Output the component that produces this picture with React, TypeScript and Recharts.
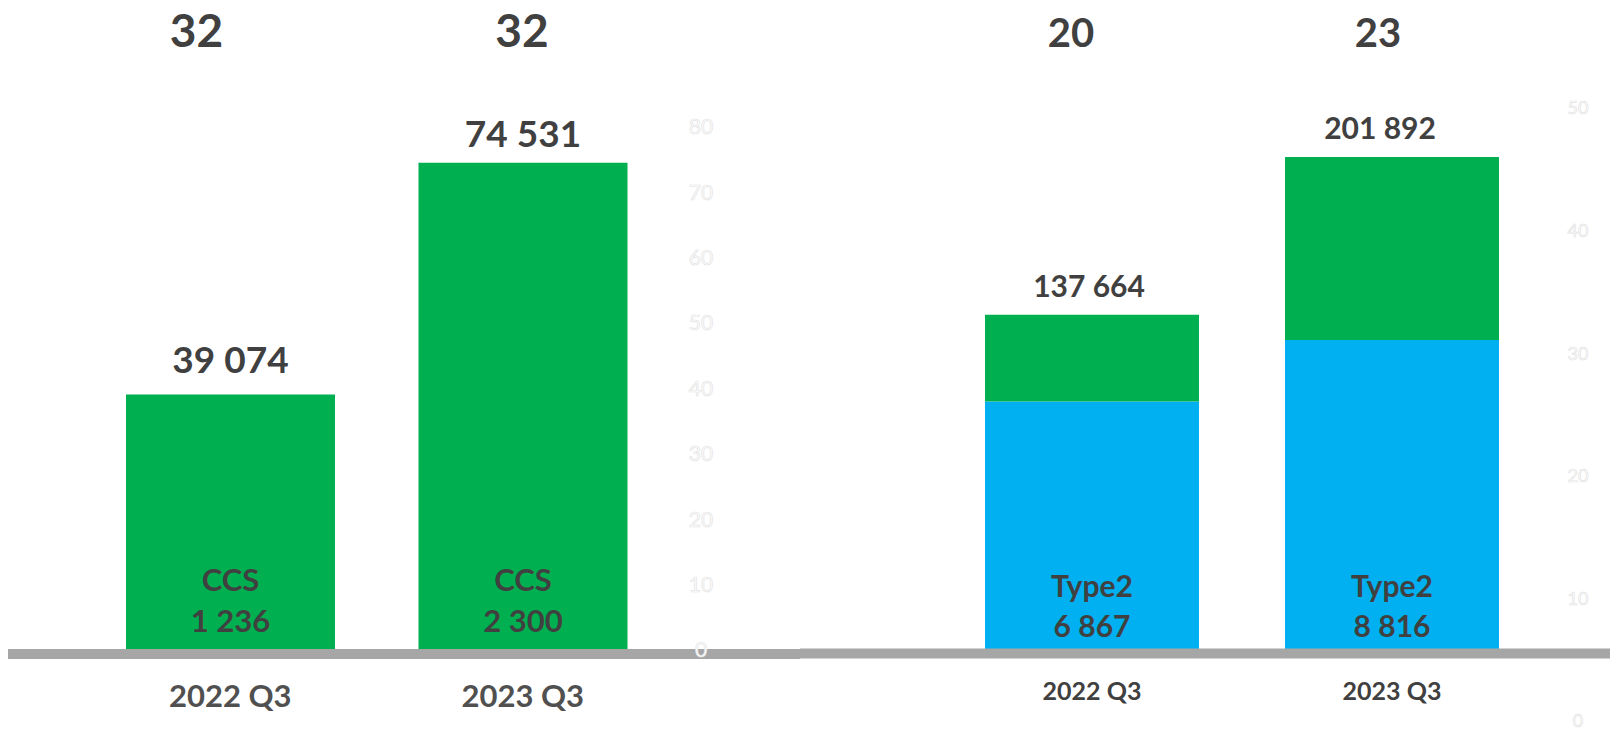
import { Bar, BarChart, LabelList, ReferenceLine, XAxis, YAxis } from "recharts";

// left panel: CCS sessions (thousands)
const LEFT_CATEGORIES = ["2022 Q3", "2023 Q3"];
const LEFT_VALUES = [39.074, 74.531];
const LEFT_VALUE_LABELS = ["39 074", "74 531"];
const LEFT_INNER_NAME = "CCS";
const LEFT_INNER_COUNTS = ["1 236", "2 300"];
const LEFT_TOP_NUMBERS = ["32", "32"];
const LEFT_TICKS = [0, 10, 20, 30, 40, 50, 60, 70, 80];

// right panel: stacked Type2 + rest (thousands)
const RIGHT_CATEGORIES = ["2022 Q3", "2023 Q3"];
const RIGHT_TYPE2 = [102.4, 127.4];
const RIGHT_OTHER = [35.3, 74.5];
const RIGHT_TOTAL_LABELS = ["137 664", "201 892"];
const RIGHT_INNER_NAME = "Type2";
const RIGHT_INNER_COUNTS = ["6 867", "8 816"];
const RIGHT_TOP_NUMBERS = ["20", "23"];
const RIGHT_TICKS = [0, 10, 20, 30, 40, 50];

const GREEN = "#00B050";
const BLUE = "#00B0F0";
const BAND = "#A6A6A6";
const INK = "#404040";
const FONT = "Lato, 'Open Sans', sans-serif";

// small hand nudges of labels, as placed on the source slide
const LEFT_TOP_SHIFT = [-34, -1];
const LEFT_LABEL_LIFT = [22, 16];
const RIGHT_TOP_SHIFT = [-21, -14];
const RIGHT_TOTAL_SHIFT = [-3, -12];

const faintTick = (dx: number, dy: number, size: number) => (p: any) => (
  <text
    x={p.x + dx}
    y={p.y + dy}
    dy="0.35em"
    textAnchor="middle"
    fontFamily={FONT}
    fontSize={size}
    fill="#ffffff"
    stroke="#e3e3e3"
    strokeWidth={0.7}
  >
    {p.payload.value}
  </text>
);

const categoryTick = (dy: number, size: number, color: string) => (p: any) => (
  <text
    x={p.x}
    y={p.y + dy}
    textAnchor="middle"
    fontFamily={FONT}
    fontWeight={700}
    fontSize={size}
    fill={color}
  >
    {p.payload.value}
  </text>
);

// grey floor band, running under the whole panel
const band = (dy: number, from: number, to: number) => (p: any) => (
  <line x1={from} x2={to} y1={p.y1 + dy} y2={p.y1 + dy} stroke={BAND} strokeWidth={10} />
);

function LeftChart() {
  const data = LEFT_CATEGORIES.map((category, i) => ({
    category,
    value: LEFT_VALUES[i],
    label: LEFT_VALUE_LABELS[i],
    count: LEFT_INNER_COUNTS[i],
    top: LEFT_TOP_NUMBERS[i],
  }));

  return (
    <BarChart width={800} height={732} data={data} margin={{ top: 127, right: 60, bottom: 0, left: 8 }}>
      <XAxis
        dataKey="category"
        height={82}
        axisLine={false}
        tickLine={false}
        tickSize={0}
        tickMargin={0}
        interval={0}
        padding={{ left: 76, right: 11 }}
        tick={categoryTick(57, 31, "#505050")}
      />
      <YAxis
        orientation="right"
        width={60}
        domain={[0, 80]}
        ticks={LEFT_TICKS}
        allowDataOverflow
        interval={0}
        axisLine={false}
        tickLine={false}
        tickSize={0}
        tickMargin={0}
        tick={faintTick(21, 0, 21)}
      />
      <ReferenceLine y={0} shape={band(4, 8, 800)} />
      <Bar dataKey="value" fill={GREEN} barSize={209} isAnimationActive={false}>
        <LabelList
          dataKey="label"
          content={(p: any) => (
            <text
              x={p.x + p.width / 2}
              y={p.y - LEFT_LABEL_LIFT[p.index]}
              textAnchor="middle"
              fontFamily={FONT}
              fontWeight={700}
              fontSize={37}
              fill={INK}
            >
              {p.value}
            </text>
          )}
        />
        <LabelList
          dataKey="count"
          content={(p: any) => {
            const cx = p.x + p.width / 2;
            const base = p.y + p.height;
            return (
              <g fontFamily={FONT} fontWeight={700} fontSize={31} fill={INK} textAnchor="middle">
                <text x={cx} y={base - 59}>{LEFT_INNER_NAME}</text>
                <text x={cx} y={base - 18}>{p.value}</text>
              </g>
            );
          }}
        />
        <LabelList
          dataKey="top"
          content={(p: any) => (
            <text
              x={p.x + p.width / 2 + LEFT_TOP_SHIFT[p.index]}
              y={47}
              textAnchor="middle"
              fontFamily={FONT}
              fontWeight={700}
              fontSize={46}
              fill={INK}
            >
              {p.value}
            </text>
          )}
        />
      </Bar>
    </BarChart>
  );
}

function RightChart() {
  const data = RIGHT_CATEGORIES.map((category, i) => ({
    category,
    type2: RIGHT_TYPE2[i],
    other: RIGHT_OTHER[i],
    total: RIGHT_TOTAL_LABELS[i],
    count: RIGHT_INNER_COUNTS[i],
    top: RIGHT_TOP_NUMBERS[i],
  }));

  return (
    <BarChart width={810} height={732} data={data} margin={{ top: 111, right: 0, bottom: 0, left: 0 }}>
      <XAxis
        dataKey="category"
        height={8}
        axisLine={false}
        tickLine={false}
        tickSize={0}
        tickMargin={0}
        interval={0}
        padding={{ left: 142, right: 13 }}
        tick={categoryTick(-24, 25, INK)}
      />
      <YAxis yAxisId="bars" hide domain={[-28.9, 220.6]} allowDataOverflow />
      <YAxis
        yAxisId="right"
        orientation="right"
        width={55}
        domain={[0, 50]}
        ticks={RIGHT_TICKS}
        allowDataOverflow
        interval={0}
        axisLine={false}
        tickLine={false}
        tickSize={0}
        tickMargin={0}
        tick={faintTick(23, -3, 18)}
      />
      <ReferenceLine yAxisId="bars" y={0} shape={band(0.5, 0, 810)} />
      <Bar yAxisId="bars" dataKey="type2" stackId="s" fill={BLUE} barSize={214} isAnimationActive={false}>
        <LabelList
          dataKey="count"
          content={(p: any) => {
            const cx = p.x + p.width / 2;
            const base = p.y + p.height;
            return (
              <g fontFamily={FONT} fontWeight={700} fontSize={30} fill={INK} textAnchor="middle">
                <text x={cx} y={base - 56}>{RIGHT_INNER_NAME}</text>
                <text x={cx} y={base - 16}>{p.value}</text>
              </g>
            );
          }}
        />
      </Bar>
      <Bar yAxisId="bars" dataKey="other" stackId="s" fill={GREEN} barSize={214} isAnimationActive={false}>
        <LabelList
          dataKey="total"
          content={(p: any) => (
            <text
              x={p.x + p.width / 2 + RIGHT_TOTAL_SHIFT[p.index]}
              y={p.y - 18}
              textAnchor="middle"
              fontFamily={FONT}
              fontWeight={700}
              fontSize={30}
              fill={INK}
            >
              {p.value}
            </text>
          )}
        />
        <LabelList
          dataKey="top"
          content={(p: any) => (
            <text
              x={p.x + p.width / 2 + RIGHT_TOP_SHIFT[p.index]}
              y={47}
              textAnchor="middle"
              fontFamily={FONT}
              fontWeight={700}
              fontSize={40}
              fill={INK}
            >
              {p.value}
            </text>
          )}
        />
      </Bar>
    </BarChart>
  );
}

export default function App() {
  return (
    <div style={{ position: "absolute", left: 0, top: 0, width: 1610, height: 732, background: "#fff" }}>
      <div style={{ position: "absolute", left: 0, top: 0 }}>
        <LeftChart />
      </div>
      <div style={{ position: "absolute", left: 800, top: 0 }}>
        <RightChart />
      </div>
    </div>
  );
}
